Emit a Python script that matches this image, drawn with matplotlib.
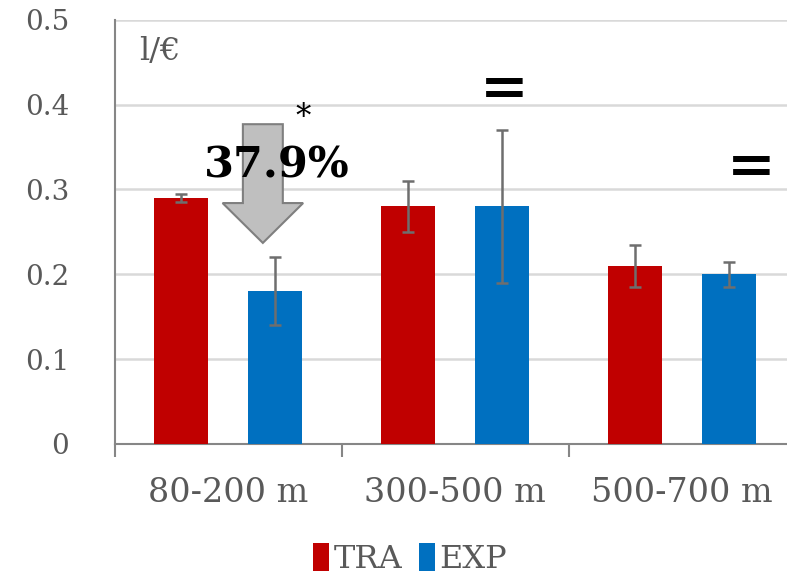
import matplotlib
matplotlib.use("Agg")
import matplotlib.pyplot as plt
from matplotlib.patches import FancyArrow
import numpy as np

# water productivity per depth class
categories = ["80-200 m", "300-500 m", "500-700 m"]
tra_vals = [0.29, 0.28, 0.21]
tra_err = [0.005, 0.03, 0.025]
exp_vals = [0.18, 0.28, 0.20]
exp_err = [0.04, 0.09, 0.015]
y_ticks = [0, 0.1, 0.2, 0.3, 0.4, 0.5]
y_ticklabels = ["0", "0.1", "0.2", "0.3", "0.4", "0.5"]

plt.rcParams['font.family'] = ['DejaVu Serif']
txt_col = "#595959"

fig = plt.figure(figsize=(7.87, 5.78), dpi=100)
ax = fig.add_axes([0.146, 0.232, 0.865, 0.7336])

x = np.arange(len(categories))
off = 0.207
w = 0.238
err_kw = dict(ecolor="#6e6e6e", elinewidth=1.8, capsize=4.5, capthick=1.8)
ax.bar(x - off, tra_vals, w, yerr=tra_err, color="#C00000", label="TRA",
       error_kw=err_kw, zorder=3)
ax.bar(x + off, exp_vals, w, yerr=exp_err, color="#0070C0", label="EXP",
       error_kw=err_kw, zorder=3)

ax.set_xlim(-0.5, 2.5)
ax.set_ylim(0, 0.5)
ax.set_yticks(y_ticks)
ax.set_yticklabels(y_ticklabels)
ax.yaxis.grid(True, color="#d9d9d9", linewidth=1.8, zorder=0)
ax.set_axisbelow(True)
ax.tick_params(axis="y", length=0, pad=33, labelsize=20, labelcolor=txt_col)

# category labels centred, tick marks on the boundaries
ax.set_xticks(x)
ax.set_xticklabels(categories)
ax.set_xticks([-0.5, 0.5, 1.5], minor=True)
ax.tick_params(axis="x", which="major", length=0, pad=24, labelsize=24,
               labelcolor=txt_col)
ax.tick_params(axis="x", which="minor", length=9, width=1.5, color="#868686")

for s in ["top", "right"]:
    ax.spines[s].set_visible(False)
for s in ["left", "bottom"]:
    ax.spines[s].set_color("#868686")
    ax.spines[s].set_linewidth(1.5)

ax.text(0.035, 0.925, "l/€", transform=ax.transAxes, fontsize=23,
        color=txt_col, va="center", ha="left")

# decrease arrow for the shallow class
arrow = FancyArrow(0.152, 0.377, 0, -0.14, width=0.176, head_width=0.355,
                   head_length=0.047, length_includes_head=True,
                   facecolor="#bfbfbf", edgecolor="#7f7f7f", linewidth=1.5,
                   zorder=4)
ax.add_patch(arrow)
ax.text(0.214, 0.328, "37.9%", fontsize=31, fontweight="bold", ha="center",
        va="center", color="black", zorder=5)
ax.text(0.328, 0.385, "*", fontsize=22, ha="center", va="center", color="black",
        zorder=5)
ax.text(1.214, 0.417, "=", fontsize=42, fontweight="bold", ha="center",
        va="center", color="black")
ax.text(2.306, 0.325, "=", fontsize=42, fontweight="bold", ha="center",
        va="center", color="black")

fig.legend(loc="center", bbox_to_anchor=(0.521, 0.033), ncol=2,
           frameon=False, fontsize=23, handlelength=0.5, handleheight=1.0,
           handletextpad=0.15, columnspacing=0.5, labelcolor=txt_col,
           borderpad=0, borderaxespad=0)

fig.savefig("out.png", dpi=100)
